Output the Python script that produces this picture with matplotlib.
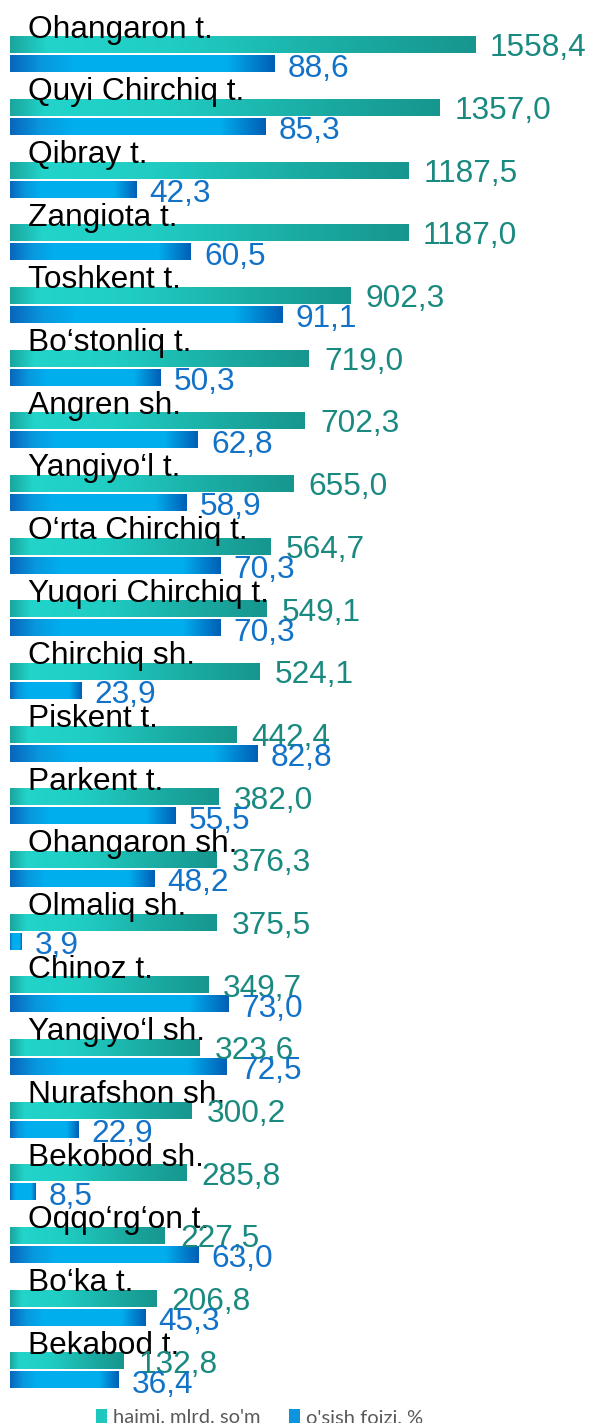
import numpy as np
import matplotlib
matplotlib.use("Agg")
import matplotlib.pyplot as plt
from matplotlib.colors import LinearSegmentedColormap
from matplotlib.patches import Patch
from matplotlib.transforms import blended_transform_factory

# ---------------- data ----------------
categories = [
    "Ohangaron t.", "Quyi Chirchiq t.", "Qibray t.", "Zangiota t.", "Toshkent t.",
    "Bo‘stonliq t.", "Angren sh.", "Yangiyo‘l t.", "O‘rta Chirchiq t.",
    "Yuqori Chirchiq t.", "Chirchiq sh.", "Piskent t.", "Parkent t.",
    "Ohangaron sh.", "Olmaliq sh.", "Chinoz t.", "Yangiyo‘l sh.", "Nurafshon sh.",
    "Bekobod sh.", "Oqqo‘rg‘on t.", "Bo‘ka t.", "Bekabod t.",
]
hajmi = [1558.4, 1357.0, 1187.5, 1187.0, 902.3, 719.0, 702.3, 655.0, 564.7, 549.1,
         524.1, 442.4, 382.0, 376.3, 375.5, 349.7, 323.6, 300.2, 285.8, 227.5, 206.8, 132.8]
osish = [88.6, 85.3, 42.3, 60.5, 91.1, 50.3, 62.8, 58.9, 70.3, 70.3,
         23.9, 82.8, 55.5, 48.2, 3.9, 73.0, 72.5, 22.9, 8.5, 63.0, 45.3, 36.4]
series_labels = ["hajmi, mlrd. so'm", "o'sish foizi, %"]

# ---------------- style ----------------
W, H = 590, 1423
TEAL_TXT = "#1a8a80"
BLUE_TXT = "#1272c8"
teal_cmap = LinearSegmentedColormap.from_list(
    "teal", [(0.0, "#1aa69e"), (0.08, "#22d4ca"), (0.35, "#20cdc3"),
             (0.75, "#1aa9a1"), (1.0, "#16968e")])
blue_cmap = LinearSegmentedColormap.from_list(
    "blue", [(0.0, "#0866bc"), (0.12, "#0898dd"), (0.25, "#00afef"),
             (0.82, "#00aeee"), (1.0, "#005fb5")])
FONT = "Liberation Sans"
FS = 22.8


def fmt(v):
    return f"{v:.1f}".replace(".", ",")


fig = plt.figure(figsize=(W / 100, H / 100), dpi=100)
ax = fig.add_axes([10 / W, 0, 580 / W, 1])
ax2 = ax.twiny()

P = 0.571


def fwd(x):
    x = np.asarray(x, dtype=float)
    return np.sign(x) * np.abs(x) ** P


def inv(x):
    x = np.asarray(x, dtype=float)
    return np.sign(x) * np.abs(x) ** (1 / P)


ax.set_xscale("function", functions=(fwd, inv))

n = len(categories)
y = np.arange(n)
off = 0.1504
bh = 0.266

tbars = ax.barh(y - off, hajmi, height=bh, color="none", linewidth=0)
bbars = ax2.barh(y + off, osish, height=bh, color="none", linewidth=0)

row = 62.67
top = 54.4
XL1 = (0, float(inv(fwd(max(hajmi)) * 580 / 465)))
XL2 = (0, 580 / 2.99)
YL = ((H - top) / row, -top / row)


def set_limits():
    ax.set_xlim(*XL1)
    ax2.set_xlim(*XL2)
    ax.set_ylim(*YL)


set_limits()

for a in (ax, ax2):
    a.axis("off")

grad = np.linspace(0, 1, 256).reshape(1, -1)
to_axes = ax.transAxes.inverted()


def paint(bars, cmap, host):
    exts = []
    for p in bars:
        bb = p.get_window_extent()
        (x0, y0), (x1, y1) = to_axes.transform([[bb.x0, bb.y0], [bb.x1, bb.y1]])
        exts.append((x0, x1, y0, y1))
    for e in exts:
        host.imshow(grad, cmap=cmap, extent=e, transform=host.transAxes,
                    aspect="auto", interpolation="bilinear", zorder=2)


paint(tbars, teal_cmap, ax)
paint(bbars, blue_cmap, ax2)
set_limits()

lab_tr = blended_transform_factory(ax2.transAxes, ax2.transData)
for i, (c, v1, v2) in enumerate(zip(categories, hajmi, osish)):
    ax2.text(18 / 580, i - 0.267, c, transform=lab_tr, fontsize=FS, family=FONT,
             va="baseline", ha="left", color="black", zorder=6)
    ax2.annotate(fmt(v1), xy=(v1, i - off), xycoords=ax.transData,
                 xytext=(10.8, 0), textcoords="offset points", va="center_baseline",
                 ha="left", color=TEAL_TXT, fontsize=FS, family=FONT, zorder=6)
    ax2.annotate(fmt(v2), xy=(v2, i + off), xycoords="data",
                 xytext=(9.5, -1), textcoords="offset points", va="center_baseline",
                 ha="left", color=BLUE_TXT, fontsize=FS, family=FONT, zorder=7,
                 annotation_clip=False)

handles = [Patch(facecolor="#1ec8be", edgecolor="none"),
           Patch(facecolor="#0a95dc", edgecolor="none")]
fig.legend(handles, series_labels, loc="lower left", bbox_to_anchor=(96 / W, -3 / H),
           ncol=2, frameon=False, prop={"family": "Lato", "size": 14.5},
           labelcolor="#595959", handlelength=0.55, handleheight=0.65,
           handletextpad=0.3, columnspacing=1.4, borderpad=0, borderaxespad=0)

fig.savefig("out.png", dpi=100)
